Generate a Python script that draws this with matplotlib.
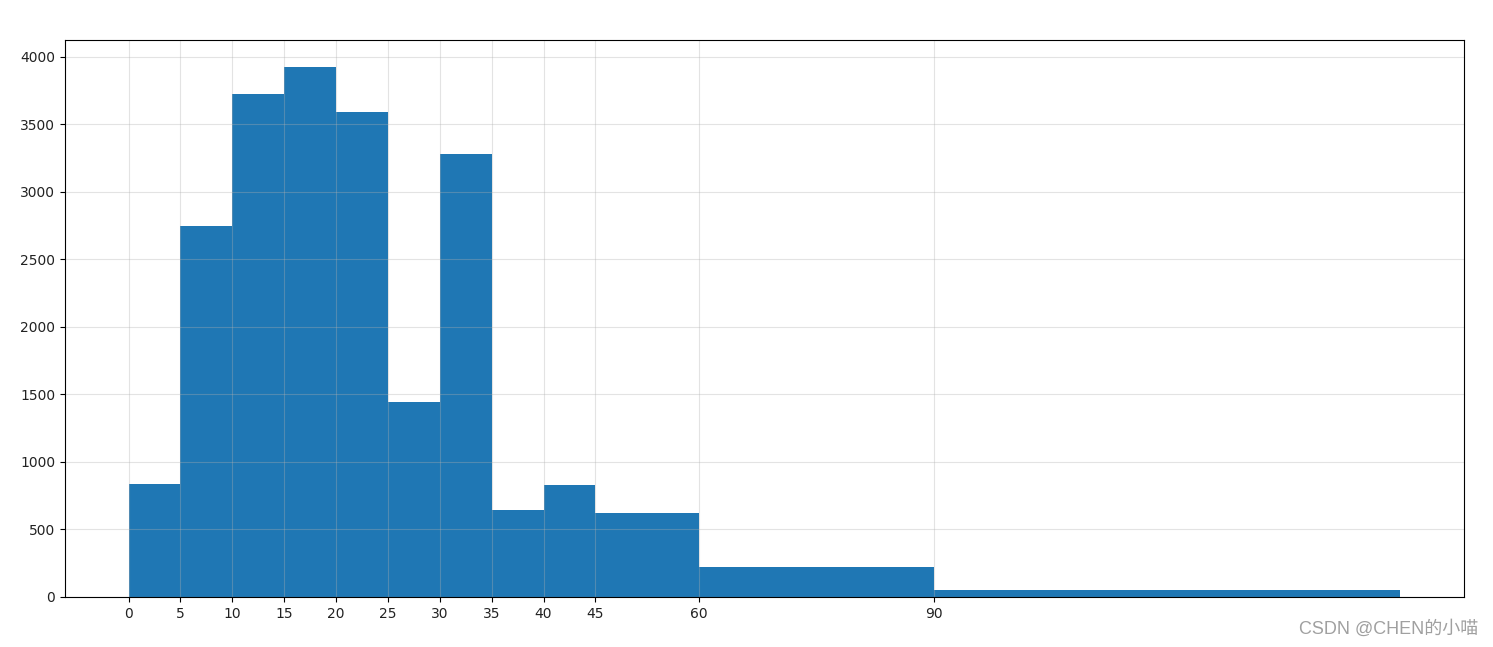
import matplotlib.pyplot as plt

# bin edges as placed on the axis, tick labels and counts
bin_edges = [0, 5, 10, 15, 20, 25, 30, 35, 40, 45, 55, 77.6, 122.6]
tick_labels = ['0', '5', '10', '15', '20', '25', '30', '35', '40', '45', '60', '90']
counts = [835, 2743, 3719, 3926, 3593, 1442, 3275, 643, 828, 621, 222, 52]

plt.rcParams['font.family'] = ['DejaVu Sans', 'Noto Sans CJK SC']

fig = plt.figure(figsize=(14.93, 6.47), dpi=100)
ax = fig.add_axes([65 / 1493, 1 - 597 / 647, 1399 / 1493, 557 / 647])

ax.hist(bin_edges[:-1], bins=bin_edges, weights=counts, color='#1f77b4')
ax.set_xticks(bin_edges[:-1])
ax.set_xticklabels(tick_labels)
ax.set_yticks(range(0, 4001, 500))
ax.tick_params(labelsize=10, labelcolor='#222222')
ax.grid(alpha=0.35)

fig.text(1478 / 1493, 1 - 629 / 647, 'CSDN @CHEN的小喵', ha='right', va='center',
         fontsize=13, color='#a0a0a0', family=['Liberation Sans', 'Noto Sans CJK SC'])

fig.savefig('out.png', dpi=100)
